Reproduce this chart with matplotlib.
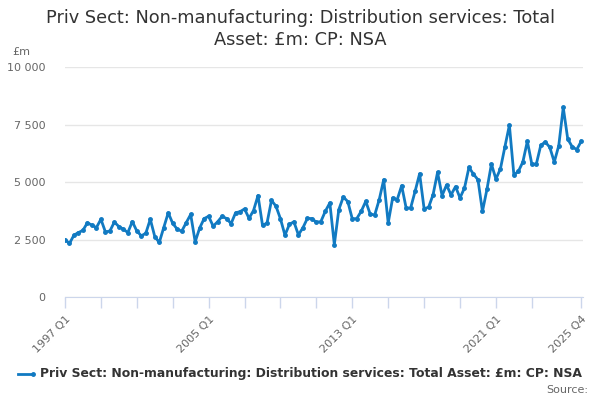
import matplotlib
matplotlib.use('Agg')
from matplotlib import pyplot as plt
import numpy as np

# Priv Sect: Non-manufacturing: Distribution services: Total Asset, quarterly 1997 Q1 - 2025 Q4

years = list(range(1997, 2026))
quarters = [f"{y} Q{q}" for y in years for q in range(1, 5)]

values = [
    2490, 2330, 2690, 2800, 2900, 3230, 3120, 3020, 3380, 2830,
    2870, 3260, 3060, 2950, 2800, 3280, 2870, 2660, 2770, 3380,
    2630, 2370, 3020, 3660, 3200, 2950, 2860, 3230, 3590, 2400,
    3000, 3410, 3510, 3080, 3270, 3510, 3410, 3190, 3660, 3710,
    3830, 3420, 3760, 4410, 3120, 3210, 4200, 3950, 3400, 2690,
    3160, 3270, 2700, 3010, 3420, 3410, 3250, 3280, 3730, 4090,
    2280, 3800, 4350, 4150, 3400, 3410, 3730, 4160, 3600, 3570,
    4230, 5100, 3220, 4310, 4230, 4840, 3870, 3870, 4600, 5360,
    3840, 3900, 4450, 5420, 4410, 4870, 4440, 4800, 4310, 4740,
    5640, 5340, 5100, 3720, 4680, 5780, 5130, 5570, 6530, 7470,
    5310, 5460, 5870, 6770, 5780, 5780, 6600, 6740, 6510, 5870,
    6580, 8240, 6870, 6530, 6410, 6770,
]

series_name = "Priv Sect: Non-manufacturing: Distribution services: Total Asset: £m: CP: NSA"
y_ticks = [0, 2500, 5000, 7500, 10000]
y_labels = ["0", "2 500", "5 000", "7 500", "10 000"]

line_color = '#117ac2'
text_color = '#333333'
axis_color = '#ccd6eb'

fig = plt.figure(figsize=(6, 4), dpi=100)
ax = fig.add_axes([65 / 600, 1 - 297 / 400, 518 / 600, 230 / 400])

x = np.arange(len(values))
ax.plot(x, values, color=line_color, linewidth=2, marker='o', markersize=2.5)

ax.set_ylim(0, 10000)
ax.set_xlim(0, 115.4)
ax.set_yticks(y_ticks)
ax.set_yticklabels(y_labels, color='#666666', fontsize=8)
ax.yaxis.grid(True, color='#e6e6e6', linewidth=1)
ax.set_axisbelow(True)
ax.tick_params(axis='y', length=0, pad=14)

tick_pos = list(range(0, 105, 8)) + [115]
ax.set_xticks(tick_pos)
tick_text = []
for p in tick_pos:
    if p in (0, 32, 64, 96, 115):
        tick_text.append(quarters[p])
    else:
        tick_text.append("")
ax.set_xticklabels(tick_text, rotation=45, ha='right', rotation_mode='anchor',
                   color='#666666', fontsize=8)
ax.tick_params(axis='x', length=8, color=axis_color, width=1, pad=4)

for s in ['top', 'right', 'left']:
    ax.spines[s].set_visible(False)
ax.spines['bottom'].set_color(axis_color)

fig.text(0.5, 1 - 18 / 400, "Priv Sect: Non-manufacturing: Distribution services: Total",
         ha='center', va='center', fontsize=12.8, color=text_color)
fig.text(0.5, 1 - 40 / 400, "Asset: £m: CP: NSA",
         ha='center', va='center', fontsize=12.8, color=text_color)
fig.text(12 / 600, 1 - 52 / 400, "£m", ha='left', va='center', fontsize=8, color='#666666')

# legend drawn by hand at the bottom
fig.lines.append(plt.Line2D([18 / 600, 33 / 600], [1 - 374 / 400, 1 - 374 / 400],
                            color=line_color, linewidth=2, marker='o', markersize=2.5,
                            markevery=[1], transform=fig.transFigure))
fig.text(40 / 600, 1 - 374 / 400, series_name, ha='left', va='center',
         fontsize=8.9, fontweight='bold', color=text_color)
fig.text(588 / 600, 1 - 390 / 400, "Source:", ha='right', va='center',
         fontsize=8, color='#666666')

plt.savefig('out.png', dpi=100)
